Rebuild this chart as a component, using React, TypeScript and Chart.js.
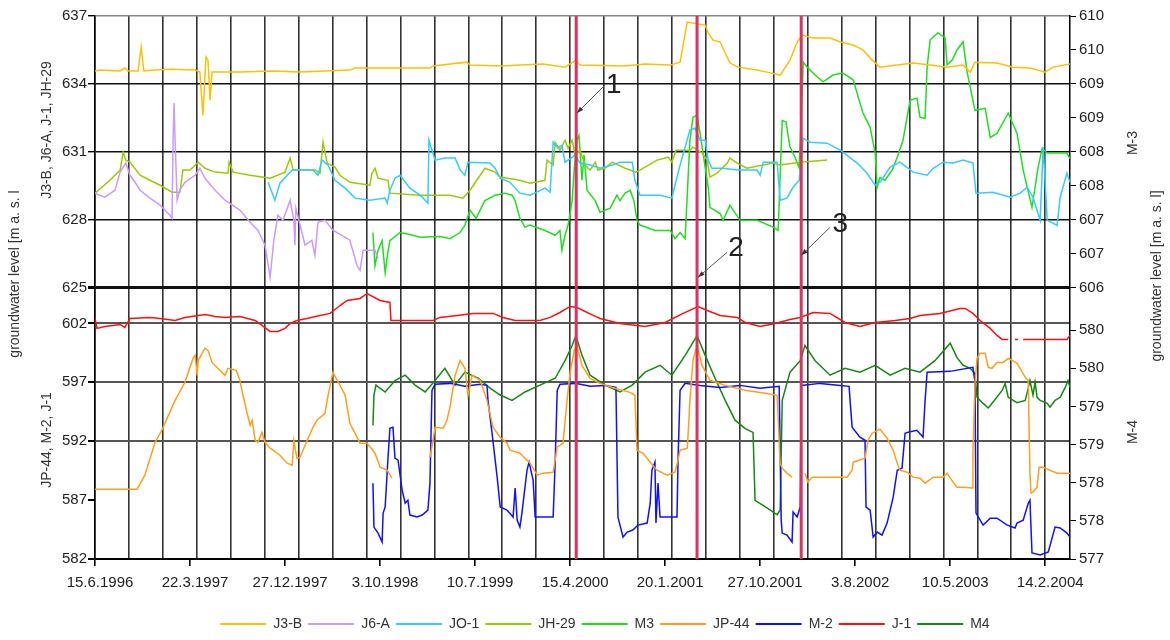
import React, { useEffect, useRef } from 'react';
import { Chart, registerables } from 'chart.js';

Chart.register(...registerables);

// x values are days counted from 15.6.1996
const xTickDays = [0, 280, 560, 840, 1120, 1400, 1680, 1960, 2240, 2520, 2800];
const xTickLabels = ['15.6.1996', '22.3.1997', '27.12.1997', '3.10.1998', '10.7.1999', '15.4.2000', '20.1.2001', '27.10.2001', '3.8.2002', '10.5.2003', '14.2.2004'];
const xGridStep = 100;
const xMaxDay = 2873;

const leftTopTicks = [625, 628, 631, 634, 637];
const leftBottomTicks = [582, 587, 592, 597, 602];
const rightTopTicks = [606, 606.5, 607, 607.5, 608, 608.5, 609, 609.5, 610];
const rightBottomTicks = [577, 577.5, 578, 578.5, 579, 579.5, 580];

type P = [number, number | null];

const seriesJ3B: P[] = [[0,634.57],[15,634.61],[74,634.57],[88,634.70],[97,634.57],[127,634.57],[136,635.63],[144,634.57],[177,634.61],[227,634.65],[295,634.61],[309,634.52],[318,632.62],[327,635.19],[333,635.05],[339,633.28],[345,634.52],[427,634.52],[522,634.57],[604,634.52],[751,634.61],[766,634.70],[987,634.70],[996,634.79],[1096,634.96],[1105,634.83],[1200,634.79],[1252,634.83],[1320,634.88],[1385,634.74],[1417,635.05],[1429,634.83],[1560,634.79],[1620,634.88],[1695,634.83],[1724,634.96],[1745,636.73],[1798,636.60],[1807,636.25],[1821,635.94],[1842,635.85],[1871,634.92],[1895,634.74],[1951,634.61],[1980,634.52],[2019,634.39],[2048,635.05],[2069,635.85],[2084,636.16],[2116,636.03],[2166,636.03],[2196,635.85],[2234,635.72],[2263,635.50],[2290,635.05],[2313,634.74],[2364,634.83],[2411,634.92],[2461,634.83],[2511,634.74],[2558,634.83],[2579,634.52],[2593,634.96],[2658,634.92],[2705,634.74],[2755,634.70],[2800,634.52],[2823,634.74],[2873,634.88]];

const seriesJ6A: P[] = [[0,629.17],[29,628.99],[59,629.30],[74,630.10],[83,630.32],[91,630.50],[103,629.96],[118,629.65],[133,629.30],[162,628.95],[192,628.64],[221,628.19],[227,628.06],[230,631.51],[233,633.15],[236,631.51],[242,628.86],[250,629.30],[265,629.65],[295,629.96],[309,630.27],[324,629.83],[354,629.30],[383,628.86],[427,628.42],[457,627.88],[480,627.53],[501,626.87],[516,625.45],[527,627.09],[539,628.19],[554,627.97],[575,628.86],[586,627.97],[589,626.87],[592,628.50],[619,626.87],[639,627.09],[648,626.42],[657,627.88],[678,627.97],[701,627.53],[751,627.09],[772,625.98],[781,625.76],[790,626.65],[825,626.65],[834,626.29]];

const seriesJO1: P[] = [[510,629.65],[530,628.86],[545,629.61],[581,630.19],[642,630.19],[657,629.96],[669,630.63],[687,630.41],[707,629.74],[737,629.39],[766,628.95],[810,628.86],[855,628.95],[861,628.73],[869,629.30],[884,629.83],[899,629.96],[928,629.39],[958,629.08],[981,628.73],[984,631.51],[993,631.07],[1002,630.63],[1031,630.72],[1061,630.72],[1076,630.19],[1090,629.96],[1099,630.54],[1164,630.50],[1179,630.27],[1194,629.83],[1223,629.65],[1252,629.17],[1282,629.08],[1326,629.39],[1341,629.21],[1350,631.42],[1364,631.16],[1376,631.29],[1385,630.54],[1415,630.85],[1429,630.50],[1459,630.41],[1488,630.27],[1524,630.41],[1547,630.54],[1583,630.54],[1591,629.74],[1606,629.08],[1665,629.08],[1700,628.95],[1709,629.52],[1724,630.41],[1753,631.96],[1768,632.04],[1783,631.51],[1798,631.51],[1807,630.63],[1818,630.27],[1851,630.27],[1892,630.19],[1951,630.19],[1960,629.96],[1969,630.54],[2010,630.54],[2019,628.86],[2039,628.95],[2057,629.43],[2075,629.74],[2087,631.60],[2107,631.42],[2157,631.38],[2196,631.07],[2246,630.50],[2275,630.05],[2299,629.52],[2313,629.65],[2343,630.32],[2372,630.54],[2411,630.10],[2452,629.96],[2470,630.27],[2499,630.54],[2529,630.50],[2558,630.63],[2587,630.50],[2596,629.17],[2646,629.21],[2697,628.99],[2726,629.17],[2747,629.43],[2764,628.99],[2785,627.97],[2794,631.20],[2806,627.97],[2835,627.75],[2844,628.99],[2864,630.05],[2873,629.65]];

const seriesJH29: P[] = [[0,629.17],[44,629.74],[74,630.19],[83,630.98],[91,630.63],[103,630.54],[133,629.96],[162,629.74],[192,629.52],[227,629.21],[250,629.21],[259,630.19],[280,630.19],[304,630.54],[324,630.27],[354,630.10],[392,630.05],[395,630.54],[407,630.10],[457,629.96],[516,629.83],[560,630.10],[575,630.72],[584,630.19],[648,630.19],[663,630.05],[672,631.42],[684,630.50],[707,630.32],[722,629.96],[751,629.65],[810,629.52],[816,630.05],[825,630.27],[834,629.83],[863,629.74],[869,629.17],[958,629.08],[1046,629.08],[1084,628.95],[1105,629.30],[1129,629.83],[1149,630.27],[1179,630.10],[1194,629.88],[1252,629.74],[1282,629.61],[1326,629.74],[1332,630.63],[1350,630.41],[1356,631.42],[1370,631.07],[1385,631.51],[1394,631.16],[1406,631.51],[1415,630.85],[1429,631.07],[1444,630.41],[1459,630.19],[1474,630.54],[1482,630.19],[1503,630.27],[1524,630.54],[1562,630.27],[1594,630.10],[1606,630.19],[1656,630.63],[1689,630.76],[1700,630.54],[1712,631.07],[1753,631.07],[1762,631.20],[1789,630.94],[1804,630.63],[1812,629.88],[1833,630.05],[1863,630.50],[1871,630.72],[1892,630.50],[1921,630.27],[1998,630.50],[2019,630.41],[2078,630.54],[2157,630.63]];

const seriesM3: P[] = [[819,606.81],[825,606.32],[834,606.55],[846,606.69],[855,606.22],[863,606.52],[869,606.69],[899,606.81],[928,606.78],[958,606.74],[1017,606.75],[1046,606.72],[1076,606.81],[1090,606.92],[1105,607.14],[1123,607.02],[1135,607.14],[1149,607.28],[1179,607.36],[1208,607.39],[1229,607.36],[1238,607.28],[1252,607.02],[1267,606.89],[1282,606.92],[1326,606.84],[1356,606.77],[1370,606.84],[1376,606.55],[1385,606.77],[1394,606.92],[1406,607.28],[1412,607.73],[1420,608.17],[1426,608.24],[1435,607.58],[1441,607.95],[1450,607.43],[1474,607.28],[1488,607.11],[1518,607.17],[1538,607.36],[1547,607.28],[1562,607.39],[1577,607.43],[1588,607.28],[1597,606.99],[1606,606.92],[1650,606.84],[1695,606.84],[1709,606.72],[1724,606.81],[1739,606.72],[1753,608.17],[1762,608.51],[1774,608.54],[1783,608.27],[1798,607.77],[1807,607.48],[1812,607.18],[1842,607.09],[1851,606.99],[1871,607.21],[1901,606.99],[1951,606.99],[1998,606.89],[2013,606.84],[2025,608.46],[2036,608.44],[2048,608.07],[2063,607.92],[2075,607.76],[2087,609.32],[2098,609.25],[2122,609.13],[2145,609.03],[2175,609.13],[2204,609.16],[2234,609.06],[2263,608.57],[2284,608.36],[2299,607.98],[2305,607.48],[2313,607.62],[2328,607.58],[2349,607.73],[2364,607.92],[2381,608.17],[2393,608.51],[2402,608.76],[2422,608.79],[2431,608.51],[2446,608.49],[2452,609.25],[2461,609.65],[2484,609.75],[2505,609.68],[2511,609.28],[2526,609.35],[2540,609.50],[2558,609.62],[2570,609.17],[2593,608.61],[2623,608.64],[2638,608.21],[2658,608.27],[2682,608.49],[2691,608.57],[2717,608.27],[2735,607.73],[2761,607.18],[2779,607.77],[2791,608.05],[2806,607.98],[2864,607.98],[2873,607.90]];

const seriesJP44: P[] = [[0,587.93],[124,587.93],[147,589.12],[177,591.91],[197,592.93],[236,595.47],[265,597.00],[289,599.03],[295,599.29],[301,597.59],[304,598.86],[324,599.88],[333,599.71],[345,598.69],[362,598.19],[383,597.59],[392,598.19],[416,598.02],[427,597.17],[436,595.90],[457,593.35],[463,593.78],[472,592.08],[480,591.91],[492,592.76],[501,591.91],[516,591.41],[545,590.81],[566,590.13],[581,589.96],[586,592.08],[595,590.56],[604,590.64],[642,593.18],[654,593.78],[678,594.37],[684,595.47],[701,597.85],[722,596.74],[737,595.90],[751,593.52],[781,591.83],[802,591.83],[825,590.98],[840,589.80],[861,589.54],[875,588.86],[930,null],[987,590.64],[996,592.08],[1002,593.18],[1026,593.10],[1037,593.78],[1046,594.88],[1061,597.59],[1076,598.86],[1090,598.19],[1099,595.90],[1111,597.59],[1135,597.17],[1155,595.47],[1173,593.18],[1194,592.34],[1214,591.83],[1223,591.24],[1252,590.98],[1282,590.13],[1303,589.12],[1320,589.29],[1350,589.37],[1362,591.49],[1379,591.83],[1391,595.47],[1400,597.85],[1412,599.71],[1420,600.13],[1435,598.44],[1459,597.34],[1488,596.91],[1532,596.49],[1577,596.15],[1591,595.90],[1597,591.24],[1615,590.98],[1636,590.22],[1656,589.54],[1686,589.12],[1709,589.37],[1718,590.39],[1724,591.24],[1745,591.41],[1748,592.68],[1753,595.47],[1762,598.86],[1774,600.13],[1789,598.44],[1812,597.17],[1857,596.74],[1916,596.32],[1974,596.07],[2010,595.90],[2019,590.13],[2025,589.71],[2039,589.29],[2054,588.95],[2075,null],[2092,589.29],[2101,588.52],[2113,588.95],[2166,588.95],[2216,588.95],[2231,589.54],[2234,590.22],[2269,590.56],[2278,592.08],[2290,592.68],[2313,593.02],[2334,592.25],[2352,591.24],[2364,590.13],[2372,589.54],[2393,589.37],[2411,588.95],[2431,588.86],[2446,588.44],[2470,588.95],[2499,588.95],[2511,589.29],[2520,588.86],[2540,588.10],[2558,588.10],[2585,588.02],[2587,591.07],[2593,596.91],[2599,599.03],[2608,599.46],[2623,599.46],[2632,598.27],[2643,598.19],[2658,598.69],[2676,598.69],[2691,599.03],[2702,598.86],[2717,598.61],[2741,597.42],[2750,597.17],[2755,589.29],[2758,587.59],[2764,587.68],[2776,588.10],[2782,589.80],[2794,589.80],[2814,589.54],[2835,589.29],[2873,589.29]];

const seriesM2: P[] = [[819,588.44],[822,584.71],[834,584.20],[846,583.44],[849,585.90],[855,586.41],[863,590.39],[869,593.10],[878,593.18],[884,590.56],[893,590.39],[905,587.85],[914,586.74],[922,587.00],[928,585.73],[949,585.56],[964,585.73],[981,586.15],[987,588.44],[993,596.32],[1002,596.83],[1046,596.91],[1090,596.66],[1135,596.83],[1155,596.74],[1158,595.47],[1170,592.68],[1185,588.95],[1194,586.41],[1214,586.15],[1232,585.56],[1238,588.02],[1244,585.30],[1252,584.71],[1258,585.90],[1273,589.54],[1279,590.22],[1291,588.69],[1297,585.56],[1350,585.56],[1356,590.22],[1362,596.32],[1370,596.83],[1415,596.91],[1459,596.66],[1503,596.74],[1535,596.57],[1541,585.56],[1556,583.86],[1568,584.29],[1585,584.46],[1600,584.88],[1627,585.05],[1636,586.74],[1641,589.54],[1650,590.22],[1653,585.05],[1659,588.44],[1665,585.56],[1715,585.56],[1718,590.39],[1724,596.32],[1739,596.91],[1783,596.74],[1842,596.57],[1901,596.74],[1960,596.49],[2016,596.66],[2022,585.30],[2025,584.20],[2039,584.03],[2054,583.44],[2057,585.98],[2069,585.56],[2078,586.41],[2081,596.74],[2137,596.91],[2196,596.74],[2222,596.66],[2225,595.47],[2231,593.18],[2254,592.34],[2269,592.08],[2272,586.41],[2284,586.15],[2293,583.86],[2305,584.29],[2319,584.03],[2334,585.05],[2352,587.25],[2364,589.54],[2378,589.71],[2387,592.68],[2396,592.76],[2422,592.93],[2440,592.34],[2446,595.47],[2452,597.85],[2520,597.93],[2587,598.27],[2593,597.00],[2596,585.90],[2617,584.88],[2638,585.47],[2658,585.47],[2688,584.88],[2711,584.63],[2717,585.05],[2735,585.30],[2750,586.74],[2755,587.00],[2761,582.51],[2785,582.34],[2809,582.59],[2829,584.71],[2844,584.63],[2864,584.20],[2873,583.86]];

const seriesJ1: P[] = [[0,602.42],[6,601.58],[29,601.74],[74,601.91],[88,601.66],[103,602.42],[162,602.51],[192,602.42],[236,602.25],[265,602.51],[324,602.76],[354,602.59],[383,602.51],[427,602.59],[472,602.25],[492,601.83],[516,601.32],[539,601.32],[560,601.58],[575,602.00],[595,602.25],[625,602.42],[663,602.68],[693,602.85],[722,603.52],[743,603.95],[781,604.12],[802,604.54],[840,603.95],[869,603.78],[872,602.25],[996,602.25],[1017,602.51],[1067,602.68],[1114,602.85],[1173,602.85],[1202,602.51],[1238,602.25],[1311,602.25],[1341,602.51],[1370,602.93],[1400,603.44],[1420,603.36],[1438,603.10],[1468,602.68],[1488,602.42],[1547,602.00],[1621,601.74],[1680,602.08],[1733,602.85],[1777,603.44],[1804,603.10],[1842,602.68],[1892,602.51],[1916,602.08],[1960,601.74],[2004,602.00],[2048,602.34],[2078,602.51],[2116,602.93],[2166,602.85],[2210,602.08],[2254,601.74],[2299,602.08],[2358,602.25],[2402,602.42],[2431,602.68],[2490,602.85],[2549,603.27],[2564,603.27],[2587,602.85],[2608,602.25],[2638,601.58],[2658,600.98],[2673,600.64],[2691,600.64],[2700,null],[2711,600.64],[2720,600.64],[2727,null],[2735,600.64],[2864,600.64],[2873,600.98]];

const seriesM4: P[] = [[819,578.75],[822,579.15],[828,579.28],[855,579.19],[884,579.34],[914,579.41],[943,579.28],[973,579.19],[1002,579.34],[1031,579.50],[1061,579.28],[1090,579.45],[1129,579.37],[1164,579.24],[1194,579.15],[1229,579.08],[1267,579.19],[1311,579.28],[1356,579.37],[1385,579.60],[1406,579.80],[1417,579.93],[1435,579.67],[1459,579.41],[1503,579.28],[1547,579.19],[1583,579.28],[1621,579.45],[1665,579.54],[1700,579.41],[1739,579.67],[1774,579.93],[1798,579.67],[1827,579.37],[1857,579.08],[1886,578.82],[1916,578.71],[1939,578.66],[1945,577.77],[1980,577.67],[2010,577.58],[2019,577.64],[2025,579.08],[2048,579.45],[2078,579.60],[2092,579.80],[2122,579.60],[2166,579.41],[2210,579.50],[2254,579.45],[2299,579.54],[2343,579.41],[2387,579.50],[2431,579.45],[2475,579.60],[2520,579.83],[2540,579.64],[2558,579.54],[2579,579.50],[2593,579.43],[2599,579.12],[2617,579.04],[2632,578.98],[2643,579.04],[2673,579.21],[2682,579.30],[2691,579.12],[2717,579.05],[2741,579.08],[2750,579.24],[2755,579.34],[2764,579.15],[2770,579.32],[2776,579.12],[2785,579.08],[2806,579.04],[2814,578.99],[2829,579.08],[2844,579.12],[2859,579.25],[2867,579.34],[2873,579.25]];

const eventDays = [1418, 1774, 2081];
const eventLabels = ['1', '2', '3'];
// annotation positions in data units of the upper-left scale: [textDay, textValue, fromDay, fromValue, toDay, toValue]
const eventNotes: number[][] = [
  [1529, 633.95, 1503, 633.95, 1420, 632.71],
  [1889, 626.73, 1863, 626.56, 1777, 625.45],
  [2196, 627.80, 2166, 627.66, 2081, 626.42],
];

const FONT = 'Liberation Sans, Arial, sans-serif';

const toXY = (s: P[]) => s.map(([x, y]) => ({ x, y }));

function buildXTicks() {
  const set = new Set<number>();
  for (let d = 0; d <= xMaxDay; d += xGridStep) set.add(d);
  xTickDays.forEach((d) => set.add(d));
  return Array.from(set).sort((a, b) => a - b).map((v) => ({ value: v }));
}

const overlayPlugin = {
  id: 'overlay',
  afterLayout(chart: any) {
    const lg = chart.legend;
    if (lg) {
      lg.left += 20;
      lg.right += 20;
      lg.top += 1;
      lg.bottom += 1;
    }
  },
  afterDatasetsDraw(chart: any) {
    const { ctx, chartArea, scales } = chart;
    const xs = scales.x;
    const yt = scales.yTL;
    ctx.save();
    ctx.strokeStyle = '#E0305E';
    ctx.lineWidth = 3;
    eventDays.forEach((d) => {
      const px = xs.getPixelForValue(d);
      ctx.beginPath();
      ctx.moveTo(px, chartArea.top);
      ctx.lineTo(px, chartArea.bottom);
      ctx.stroke();
    });
    eventNotes.forEach((n, i) => {
      const tx = xs.getPixelForValue(n[0]);
      const ty = yt.getPixelForValue(n[1]);
      const fx = xs.getPixelForValue(n[2]);
      const fy = yt.getPixelForValue(n[3]);
      const ex = xs.getPixelForValue(n[4]);
      const ey = yt.getPixelForValue(n[5]);
      ctx.strokeStyle = '#555';
      ctx.lineWidth = 1;
      ctx.beginPath();
      ctx.moveTo(fx, fy);
      ctx.lineTo(ex, ey);
      ctx.stroke();
      const ang = Math.atan2(ey - fy, ex - fx);
      ctx.fillStyle = '#333';
      ctx.beginPath();
      ctx.moveTo(ex, ey);
      ctx.lineTo(ex - 7 * Math.cos(ang - 0.35), ey - 7 * Math.sin(ang - 0.35));
      ctx.lineTo(ex - 7 * Math.cos(ang + 0.35), ey - 7 * Math.sin(ang + 0.35));
      ctx.closePath();
      ctx.fill();
      ctx.fillStyle = '#222';
      ctx.font = `28px ${FONT}`;
      ctx.textAlign = 'center';
      ctx.textBaseline = 'middle';
      ctx.fillText(eventLabels[i], tx, ty);
    });
    ctx.restore();
  },
  afterDraw(chart: any) {
    const { ctx } = chart;
    const drawV = (text: string, x: number, y: number) => {
      ctx.save();
      ctx.translate(x, y);
      ctx.rotate(-Math.PI / 2);
      ctx.fillStyle = '#333';
      ctx.font = `14px ${FONT}`;
      ctx.textAlign = 'center';
      ctx.textBaseline = 'middle';
      ctx.fillText(text, 0, 0);
      ctx.restore();
    };
    drawV('groundwater level [m a. s. l', 15, 274);
    drawV('J3-B, J6-A, J-1, JH-29', 47, 130);
    drawV('JP-44, M-2, J-1', 47, 440);
    drawV('M-3', 1133, 143);
    drawV('M-4', 1133, 432);
    drawV('groundwater level [m a. s. l]', 1157, 276);
  },
};

export default function App() {
  const ref = useRef<HTMLCanvasElement | null>(null);

  useEffect(() => {
    document.body.style.margin = '0';
    if (!ref.current) return;
    Chart.defaults.font.family = FONT;

    const ds = (label: string, data: P[], color: string, axis: string) => ({
      label,
      data: toXY(data),
      borderColor: color,
      backgroundColor: color,
      borderWidth: 1.5,
      pointRadius: 0,
      fill: false,
      tension: 0,
      spanGaps: false,
      yAxisID: axis,
    });

    const tickFont = { family: FONT, size: 15 };

    const chart = new Chart(ref.current, {
      type: 'line',
      data: {
        datasets: [
          ds('J3-B', seriesJ3B, '#FFC000', 'yTL'),
          ds('J6-A', seriesJ6A, '#CC99FF', 'yTL'),
          ds('JO-1', seriesJO1, '#33CCFF', 'yTL'),
          ds('JH-29', seriesJH29, '#99CC00', 'yTL'),
          ds('M3', seriesM3, '#1EE01E', 'yTR'),
          ds('JP-44', seriesJP44, '#FF9F1A', 'yBL'),
          ds('M-2', seriesM2, '#1010FF', 'yBL'),
          ds('J-1', seriesJ1, '#FF1010', 'yBL'),
          ds('M4', seriesM4, '#108A10', 'yBR'),
        ],
      },
      options: {
        animation: false,
        responsive: false,
        devicePixelRatio: 1,
        layout: { padding: { top: 16, left: 0, right: 0, bottom: 0 } },
        plugins: {
          legend: {
            position: 'bottom',
            labels: {
              boxWidth: 46,
              boxHeight: 2,
              padding: 6,
              color: '#333',
              font: { family: FONT, size: 14 },
              generateLabels: (c: any) =>
                (Chart.defaults.plugins.legend.labels as any).generateLabels(c).map((l: any) => ({ ...l, lineWidth: 0 })),
            },
          },
          tooltip: { enabled: false },
        },
        scales: {
          x: {
            type: 'linear',
            position: 'bottom',
            min: 0,
            max: xMaxDay,
            afterBuildTicks: (s: any) => { s.ticks = buildXTicks(); },
            afterFit: (s: any) => { s.height = 51; },
            ticks: {
              autoSkip: false,
              maxRotation: 0,
              minRotation: 0,
              padding: 8,
              labelOffset: 5,
              color: '#222',
              font: tickFont,
              callback: (v: any) => {
                const i = xTickDays.indexOf(Number(v));
                return i >= 0 ? xTickLabels[i] : '';
              },
            },
            grid: {
              color: (c: any) => (c.tick && c.tick.value % xGridStep === 0 ? '#333' : 'rgba(0,0,0,0)'),
              tickColor: (c: any) => (c.tick && xTickDays.includes(c.tick.value) ? '#000' : 'rgba(0,0,0,0)'),
              lineWidth: 1.6,
              tickLength: 7,
            },
            border: { display: true, color: '#000', width: 1.5 },
          },
          yBL: {
            type: 'linear',
            position: 'left',
            stack: 'left',
            stackWeight: 1,
            min: 582,
            max: 605.05,
            afterBuildTicks: (s: any) => { s.ticks = leftBottomTicks.map((v) => ({ value: v })); },
            afterFit: (s: any) => { s.width = 95; },
            ticks: { autoSkip: false, padding: 1, color: '#222', font: tickFont, callback: (v: any) => String(v) },
            grid: {
              color: (c: any) => {
                const v = c.tick && c.tick.value;
                if (v === 582) return '#000';
                if (v === 587) return 'rgba(0,0,0,0)';
                return '#555';
              },
              tickColor: '#000',
              lineWidth: 2,
              tickLength: 7,
            },
            border: { display: true, color: '#000', width: 1.5 },
          },
          yTL: {
            type: 'linear',
            position: 'left',
            stack: 'left',
            stackWeight: 1,
            min: 625,
            max: 637,
            afterBuildTicks: (s: any) => { s.ticks = leftTopTicks.map((v) => ({ value: v })); },
            afterFit: (s: any) => { s.width = 95; },
            ticks: { autoSkip: false, padding: 1, color: '#222', font: tickFont, callback: (v: any) => String(v) },
            grid: {
              color: (c: any) => {
                const v = c.tick && c.tick.value;
                if (v === 637) return '#888';
                return '#111';
              },
              lineWidth: (c: any) => {
                const v = c.tick && c.tick.value;
                if (v === 625) return 3;
                return 1.4;
              },
              tickColor: '#000',
              tickLength: 7,
            },
            border: { display: true, color: '#000', width: 1.5 },
          },
          yTR: {
            type: 'linear',
            position: 'right',
            stack: 'right',
            stackWeight: 1,
            min: 606,
            max: 610,
            afterBuildTicks: (s: any) => { s.ticks = rightTopTicks.map((v) => ({ value: v })); },
            afterFit: (s: any) => { s.width = 100; },
            ticks: { autoSkip: false, padding: 3, color: '#222', font: tickFont, callback: (v: any) => String(Math.round(Number(v))) },
            grid: { drawOnChartArea: false, color: '#000', lineWidth: 1, tickLength: 6 },
            border: { display: true, color: '#000', width: 1.5 },
          },
          yBR: {
            type: 'linear',
            position: 'right',
            stack: 'right',
            stackWeight: 1,
            min: 577,
            max: 580.56,
            afterBuildTicks: (s: any) => { s.ticks = rightBottomTicks.map((v) => ({ value: v })); },
            afterFit: (s: any) => { s.width = 100; },
            ticks: { autoSkip: false, padding: 3, color: '#222', font: tickFont, callback: (v: any) => String(Math.round(Number(v))) },
            grid: { drawOnChartArea: false, color: '#000', lineWidth: 1, tickLength: 6 },
            border: { display: true, color: '#000', width: 1.5 },
          },
        },
      } as any,
      plugins: [overlayPlugin],
    });

    return () => chart.destroy();
  }, []);

  return (
    <div style={{ width: 1170, height: 640, background: '#fff' }}>
      <canvas ref={ref} width={1170} height={640} style={{ display: 'block' }} />
    </div>
  );
}
